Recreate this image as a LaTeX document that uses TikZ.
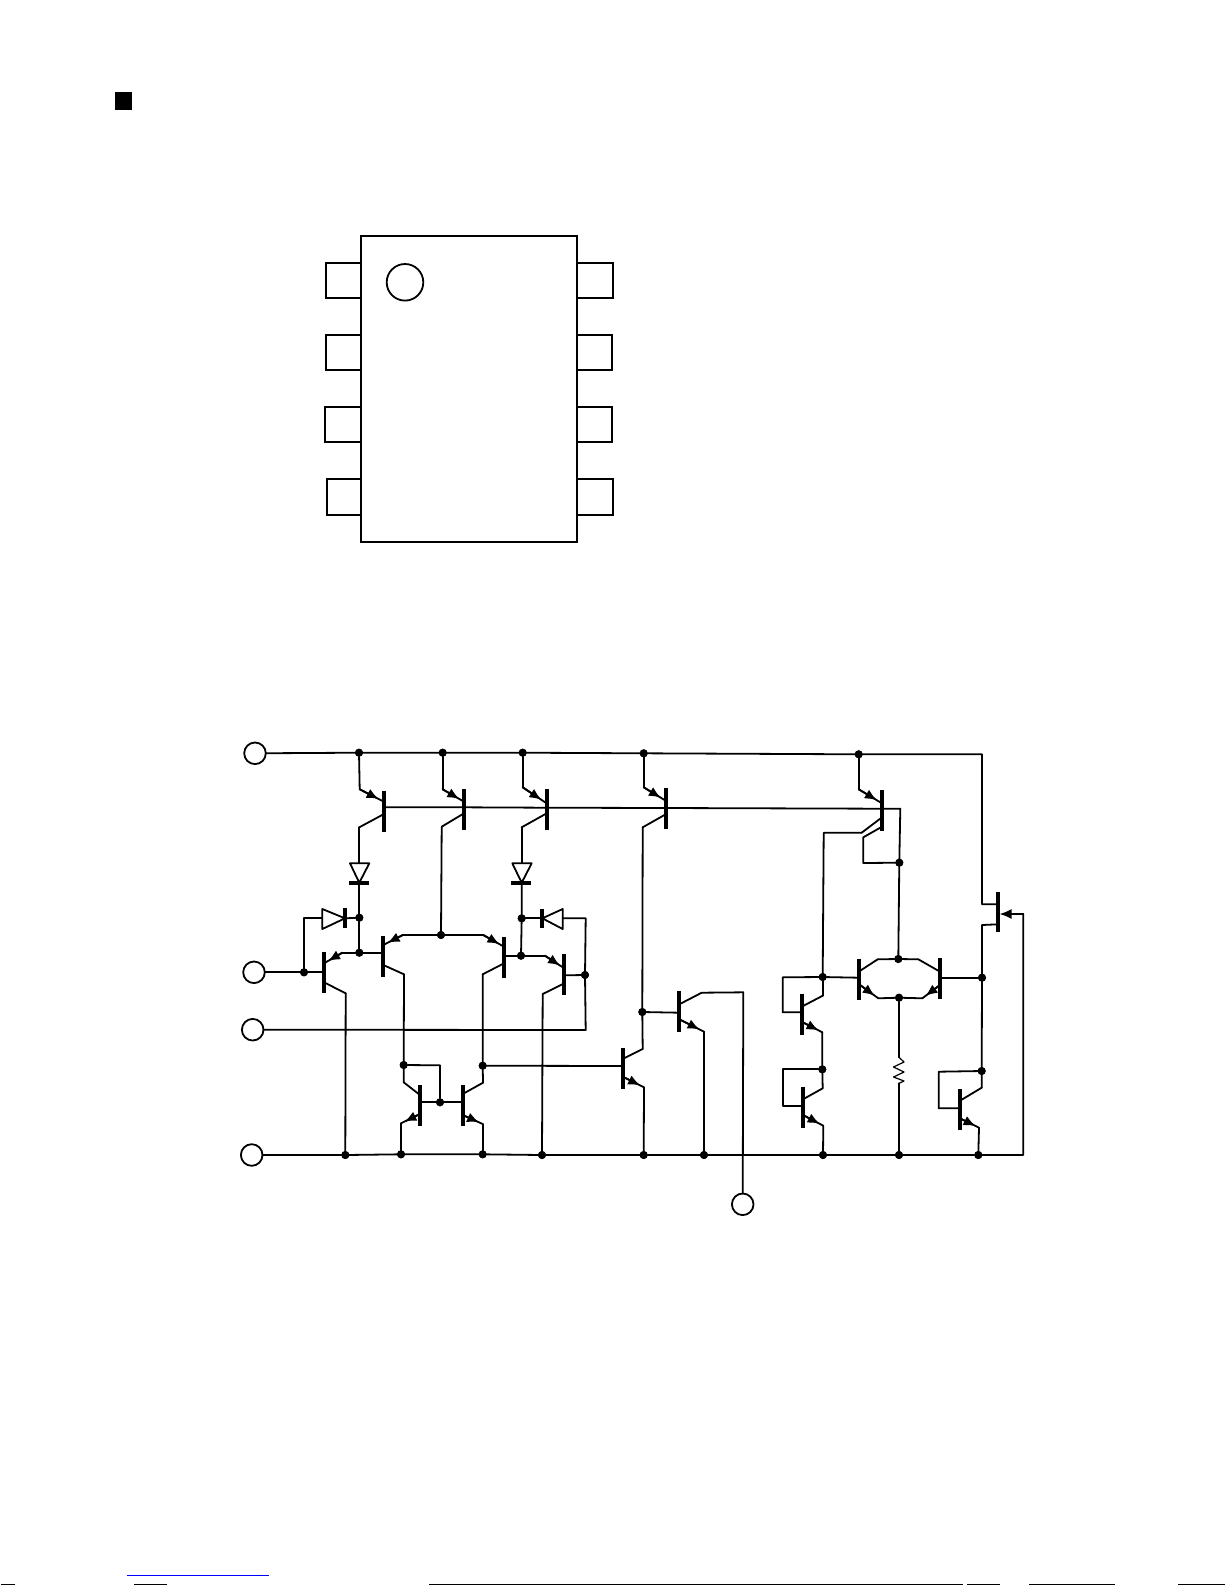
\documentclass[tikz,border=0pt]{standalone}
\usetikzlibrary{calc,arrows.meta}
\tikzset{
  wire/.style={line width=0.9pt,line cap=round,line join=round},
  bjtbar/.style={line width=2pt},
  dbar/.style={line width=2pt},
  pkg/.style={line width=1pt,draw=black},
  emarrow/.style={wire,-{Latex[length=6pt,width=5pt]}},
  dot/.style={circle,fill=black,draw=none,minimum size=4pt,inner sep=0pt,outer sep=0pt},
  pinc/.style={circle,draw=black,line width=0.9pt,fill=white,minimum size=10.8pt,inner sep=0pt,outer sep=0pt},
  diode/.style={wire,draw=black,fill=white}
}
\newcommand{\Qcore}[9]{%
  \draw[bjtbar] (#2,#3) -- (#2,{#3+41});
  \coordinate (#1k) at (#2,#4);
  \coordinate (#1l) at (#2,#7);
  \coordinate (#1c) at (#5,#6);
  \coordinate (#1e) at (#8,#9);
  \draw[wire] (#1k) -- (#1c);
  \draw[wire] (#1l) -- (#1e);
}
\newcommand{\Qb}[2]{\coordinate (#1b) at (#1k |- 0,#2);}
\newcommand{\arrIn}[1]{\draw[emarrow] (#1e) -- ($(#1e)!0.78!(#1l)$);}
\newcommand{\arrOut}[1]{\draw[emarrow] (#1l) -- ($(#1l)!0.82!(#1e)$);}
\begin{document}
\begin{tikzpicture}[x=0.5pt,y=-0.5pt]
\useasboundingbox (0,0) rectangle (1225,1585);
\fill[white] (0,0) rectangle (1225,1585);
% heading square
\fill[black] (115,92) rectangle (132,110);
% package
\draw[pkg] (360.7,263) -- (325.7,263) -- (325.7,298) -- (360.7,298);
\draw[pkg] (360.7,335) -- (325.7,335) -- (325.7,370) -- (360.7,370);
\draw[pkg] (360.7,407) -- (324.7,407) -- (324.7,441.7) -- (360.7,441.7);
\draw[pkg] (360.7,478.7) -- (326.7,478.7) -- (326.7,514.7) -- (360.7,514.7);
\draw[pkg] (577.3,263) -- (613,263) -- (613,298) -- (577.3,298);
\draw[pkg] (577.3,335) -- (612,335) -- (612,370) -- (577.3,370);
\draw[pkg] (577.3,407) -- (612,407) -- (612,441.7) -- (577.3,441.7);
\draw[pkg] (577.3,478.7) -- (613,478.7) -- (613,514.7) -- (577.3,514.7);
\draw[pkg] (360.7,235.7) rectangle (577.3,541.7);
\node[circle,draw=black,line width=0.9pt,minimum size=18.3pt,inner sep=0pt] (mark) at (405,282.3) {};
% pins
\node[pinc] (pv) at (255,753.3) {};
\node[pinc] (pi) at (254,972.3) {};
\node[pinc] (pn) at (252.7,1029.7) {};
\node[pinc] (pg) at (251.7,1155) {};
\node[pinc] (po) at (742.7,1204.3) {};
% junction dots
\foreach \n/\x/\y in {v1/359/752.7,v2/442.7/752.7,v3/522.7/752.7,v4/643.7/753.3,v5/858.7/754.3,
 j1/359.3/917.7,j2/359.3/952.7,j3/304/972.3,j4/441/935,j5/521.7/918.3,j6/521/955.7,j7/585/975,
 m1/403.7/1065,m3/440/1102.3,m4/482.7/1065.7,
 g1/345.3/1155,g2/401/1154.3,g3/482.7/1154.3,g4/542/1155,g5/643.7/1155,g6/704/1155,g7/823/1155,g8/899/1155,g9/978.3/1155,
 o1/642.3/1012,e1/899.3/862.7,e2/898.3/959,e3/899/997.7,
 s1/822.7/977,s2/822.3/1069.3,s3/982/977.7,s4/981.7/1071}
  \node[dot] (\n) at (\x,\y) {};
\coordinate (m2) at (440,1065.3);
% transistors
\Qcore{ta}{384}{790.7}{814}{359.3}{827.3}{801.7}{359.7}{789.3}\Qb{ta}{807.3}
\Qcore{tb}{464}{789}{813.3}{441.7}{826.7}{801.7}{442.7}{789.3}\Qb{tb}{807.3}
\Qcore{tc}{546.7}{789}{813.3}{521.7}{827.3}{803.3}{522.7}{787.3}\Qb{tc}{807.7}
\Qcore{td}{665.7}{787.7}{814.3}{642.7}{827.3}{800.7}{643.7}{787.3}\Qb{td}{808}
\Qcore{te}{882}{790.3}{817.3}{861.7}{832.7}{803.3}{858.7}{789.3}\Qb{te}{808.7}
\Qcore{qa}{324}{951.7}{982.3}{345.7}{993.3}{963.3}{342.3}{952.7}\Qb{qa}{972.3}
\Qcore{qb}{383.3}{935.7}{965}{404}{974.3}{945}{402.7}{935}\Qb{qb}{952.7}
\Qcore{qc}{504}{936.7}{963.3}{482.7}{974.3}{946.7}{483.3}{935}\Qb{qc}{955.7}
\Qcore{qd}{564.3}{954.3}{983.3}{542.7}{994}{968.3}{545}{955.7}\Qb{qd}{975.3}
\Qcore{qe}{420}{1085}{1095}{403.7}{1082.3}{1114}{401}{1123.3}\Qb{qe}{1102.3}
\Qcore{qf}{462.7}{1085}{1094}{483}{1082.7}{1115}{482.7}{1124}\Qb{qf}{1102.3}
\Qcore{qg}{622.7}{1047.7}{1059}{642.7}{1049}{1076.7}{644}{1087.3}\Qb{qg}{1066}
\Qcore{qh}{679.3}{991}{1004.3}{701.7}{992.7}{1019.3}{704}{1031.7}\Qb{qh}{1012.7}
\Qcore{qi}{858.7}{958.7}{971.7}{877.7}{959.3}{984}{878.3}{998.3}\Qb{qi}{977.7}
\Qcore{qm}{940}{957.7}{971.7}{918.3}{959.3}{985}{922.3}{998.3}\Qb{qm}{977.7}
\Qcore{qj}{801.7}{994.3}{1006.7}{822.7}{995.7}{1021.7}{822.3}{1032.3}\Qb{qj}{1012.3}
\Qcore{qk}{803}{1086.7}{1099.3}{822.7}{1088.3}{1115}{823.3}{1125.7}\Qb{qk}{1105.7}
\Qcore{qn}{960}{1089.3}{1100.7}{981.7}{1087.7}{1118.3}{979}{1127.7}\Qb{qn}{1108.3}
\arrIn{ta}\arrIn{tb}\arrIn{tc}\arrIn{td}\arrIn{te}
\arrIn{qa}\arrIn{qb}\arrIn{qc}\arrIn{qd}
\arrOut{qe}\arrOut{qf}\arrOut{qg}\arrOut{qh}\arrOut{qi}\arrOut{qm}\arrOut{qj}\arrOut{qk}\arrOut{qn}
% FET at right
\coordinate (fs) at (998.3,904.3);
\coordinate (fd) at (998.3,924.3);
\coordinate (fg) at (999.5,914);
\draw[bjtbar] (998.3,892.3) -- (998.3,932.3);
% rails
\coordinate (rtr) at (982,754.3);
\coordinate (rs) at (982,904.3);
\coordinate (rd) at (982,925);
\draw[wire] (pv) -- (v1) -- (v2) -- (v3) -- (v4) -- (v5) -- (rtr) -- (rs) -- (fs);
\draw[wire] (fd) -- (rd) -- (s3) -- (s4) -- (qnc);
\coordinate (gc) at (1023.3,1155);
\coordinate (gt) at (1023.3,914);
\draw[wire] (pg) -- (g1) -- (g2) -- (g3) -- (g4) -- (g5) -- (g6) -- (g7) -- (g8) -- (g9) -- (gc) -- (gt);
\draw[emarrow] (gt) -- (fg);
% emitters at top
\draw[wire] (v1) -- (tae);
\draw[wire] (v2) -- (tbe);
\draw[wire] (v3) -- (tce);
\draw[wire] (v4) -- (tde);
\draw[wire] (v5) -- (tee);
% base rail
\coordinate (bc) at (900.3,808.7);
\draw[wire] (tab) -- (tbb) -- (tcb) -- (tdb) -- (teb) -- (bc) -- (e1) -- (e2);
% second collector of the multi-collector device
\coordinate (te2a) at (882,826.7);
\coordinate (te2b) at (863.3,837.3);
\coordinate (te2c) at (863.3,863);
\draw[wire] (te2a) -- (te2b) -- (te2c) -- (e1);
\coordinate (te1a) at (823.7,832.7);
\draw[wire] (tec) -- (te1a) -- (s1);
% diodes
\coordinate (da) at (359.3,863.3);
\coordinate (db) at (359.3,882.7);
\draw[wire] (tac) -- (da);
\draw[diode] (350,863.3) -- (369.3,863.3) -- (db) -- cycle;
\draw[dbar] (349.3,882.7) -- (369.3,882.7);
\draw[wire] (db) -- (j1) -- (j2);
\coordinate (dc) at (521.7,863.3);
\coordinate (dd) at (521.7,882.7);
\draw[wire] (tcc) -- (dc);
\draw[diode] (512.3,863.3) -- (531.7,863.3) -- (dd) -- cycle;
\draw[dbar] (511,882.7) -- (530.7,882.7);
\draw[wire] (dd) -- (j5) -- (j6);
\coordinate (de) at (322.3,918.3);
\coordinate (df) at (345,918.3);
\coordinate (dg) at (304,918.3);
\draw[wire] (j3) -- (dg) -- (de);
\draw[wire] (df) -- (j1);
\draw[diode] (322.3,909) -- (322.3,929) -- (df) -- cycle;
\draw[dbar] (345,908.3) -- (345,927.7);
\coordinate (dh) at (562.7,918.3);
\coordinate (di) at (542.3,918.3);
\coordinate (dj) at (585.7,918.3);
\coordinate (dk) at (585.7,1030);
\draw[wire] (j5) -- (di);
\draw[diode] (562.7,909) -- (562.7,929) -- (di) -- cycle;
\draw[dbar] (542.3,909) -- (542.3,927.7);
\draw[wire] (dh) -- (dj) -- (j7) -- (dk) -- (pn);
% input stage
\draw[wire] (pi) -- (j3) -- (qab);
\draw[wire] (qae) -- (j2) -- (qbb);
\draw[wire] (qac) -- (g1);
\draw[wire] (qbe) -- (j4) -- (qce);
\draw[wire] (tbc) -- (j4);
\draw[wire] (qcb) -- (j6) -- (qde);
\draw[wire] (qdb) -- (j7);
\draw[wire] (qdc) -- (g4);
\draw[wire] (qbc) -- (m1) -- (qec);
\draw[wire] (m1) -- (m2) -- (m3);
\draw[wire] (qeb) -- (m3) -- (qfb);
\draw[wire] (qee) -- (g2);
\draw[wire] (qcc) -- (m4) -- (qfc);
\draw[wire] (qfe) -- (g3);
% gain and output
\draw[wire] (m4) -- (qgb);
\draw[wire] (qgc) -- (o1) -- (tdc);
\draw[wire] (qge) -- (g5);
\draw[wire] (o1) -- (qhb);
\draw[wire] (qhe) -- (g6);
\coordinate (oc) at (743.3,992.3);
\draw[wire] (qhc) -- (oc) -- (po);
% bias stack
\coordinate (la) at (782.7,977.3);
\coordinate (lb) at (782.7,1012.3);
\draw[wire] (qib) -- (s1) -- (la) -- (lb) -- (qjb);
\draw[wire] (qjc) -- (s1);
\draw[wire] (qje) -- (s2) -- (qkc);
\coordinate (lc) at (783.3,1069.3);
\coordinate (ld) at (783.3,1105.7);
\draw[wire] (s2) -- (lc) -- (ld) -- (qkb);
\draw[wire] (qke) -- (g7);
\draw[wire] (qic) -- (e2) -- (qmc);
\draw[wire] (qie) -- (e3) -- (qme);
\draw[wire] (qmb) -- (s3);
% resistor
\coordinate (ra) at (899,1057.3);
\coordinate (rb) at (899,1083.3);
\draw[wire] (e3) -- (ra);
\draw[line width=0.6pt,line join=round] (ra) -- (904,1062) -- (893.5,1067) -- (904,1072) -- (893.5,1077) -- (904,1081) -- (rb);
\draw[wire] (rb) -- (g8);
% right diode-connected device
\coordinate (na) at (938.7,1071.7);
\coordinate (nb) at (938.7,1108.3);
\draw[wire] (s4) -- (na) -- (nb) -- (qnb);
\draw[wire] (qne) -- (g9);
% redraw junctions above wires
\foreach \n/\x/\y in {v1/359/752.7,v2/442.7/752.7,v3/522.7/752.7,v4/643.7/753.3,v5/858.7/754.3,
 j1/359.3/917.7,j2/359.3/952.7,j3/304/972.3,j4/441/935,j5/521.7/918.3,j6/521/955.7,j7/585/975,
 m1/403.7/1065,m3/440/1102.3,m4/482.7/1065.7,
 g1/345.3/1155,g2/401/1154.3,g3/482.7/1154.3,g4/542/1155,g5/643.7/1155,g6/704/1155,g7/823/1155,g8/899/1155,g9/978.3/1155,
 o1/642.3/1012,e1/899.3/862.7,e2/898.3/959,e3/899/997.7,
 s1/822.7/977,s2/822.3/1069.3,s3/982/977.7,s4/981.7/1071}
  \fill[black] (\x,\y) circle (4);
% page foot
\draw[blue,line width=0.5pt] (127,1575.3) -- (269,1575.3);
\draw[line width=0.7pt] (429,1584.3) -- (963,1584.3);
\draw[line width=0.7pt] (967,1584.3) -- (1000,1584.3);
\draw[line width=0.7pt] (1029,1584.3) -- (1115,1584.3);
\draw[line width=0.7pt] (1178,1584.3) -- (1225,1584.3);
\draw[line width=0.7pt] (1,1584.3) -- (15,1584.3);
\draw[line width=0.7pt] (134,1584.3) -- (167,1584.3);
\end{tikzpicture}
\end{document}
